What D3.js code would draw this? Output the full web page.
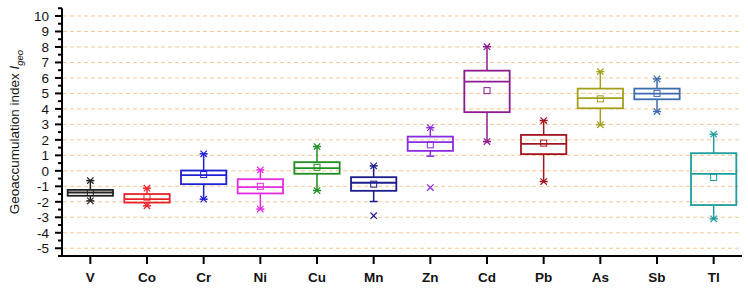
<!DOCTYPE html>
<html><head><meta charset="utf-8">
<script src="https://cdn.jsdelivr.net/npm/d3@7"></script>
<style>body{margin:0;background:#fff}svg{display:block}</style>
</head><body>
<svg id="c" width="748" height="296"></svg>
<script>
const categories = ["V","Co","Cr","Ni","Cu","Mn","Zn","Cd","Pb","As","Sb","Tl"];
const colors = ["#222222","#e8232a","#1f1fd6","#e62be6","#1f8f1f","#1c1c8c","#8a2be2","#8b1c8f","#a3161f","#a3a01c","#3b6db0","#1f9e9e"];
const q1 = [-1.61,-2.05,-0.86,-1.46,-0.19,-1.29,1.29,3.79,1.08,4.04,4.62,-2.21];
const medians = [-1.40,-1.83,-0.28,-1.05,0.17,-0.77,1.85,5.76,1.74,4.69,4.99,-0.19];
const q3 = [-1.23,-1.50,0.02,-0.54,0.56,-0.41,2.21,6.47,2.32,5.31,5.31,1.14];
const means = [-1.40,-1.70,-0.24,-1.00,0.23,-0.86,1.68,5.18,1.79,4.65,5.00,-0.43];
const whiskerLow = [-1.94,-2.26,-1.83,-2.47,-1.27,-1.98,0.95,1.89,-0.69,2.97,3.83,-3.10];
const whiskerHigh = [-0.63,-1.12,1.10,0.06,1.57,0.32,2.79,8.02,3.25,6.41,5.94,2.37];
const markers = [[-1.94,-0.63],[-2.26,-1.12],[-1.83,1.10],[-2.47,0.06],[-1.27,1.57],[-2.90,0.32],[-1.08,2.79],[1.89,8.02],[-0.69,3.25],[2.97,6.41],[3.83,5.94],[-3.10,2.37]];
const yTicks = d3.range(-5, 11);

const svg = d3.select("#c");
const pL = 62, pR = 742, pT = 8.25, pB = 256;
const x = d3.scaleBand().domain(categories).range([pL, pR]).padding(0);
const y = d3.scaleLinear().domain([-5.5, 10.5]).range([pB, pT]);

// gridlines
svg.append("g").selectAll("line").data(yTicks).join("line")
  .attr("x1", pL+1).attr("x2", pR).attr("y1", d=>y(d)).attr("y2", d=>y(d))
  .attr("stroke", "#f5c794").attr("stroke-width", 1).attr("stroke-dasharray", "4,3");

// boxes
const bw = x.bandwidth()*0.8;
const g = svg.append("g").selectAll("g").data(categories).join("g")
  .attr("transform", d=>`translate(${x(d)+x.bandwidth()/2},0)`);
g.each(function(d,i){
  const s = d3.select(this), c = colors[i];
  s.append("line").attr("x1",0).attr("x2",0).attr("y1",y(whiskerHigh[i])).attr("y2",y(q3[i])).attr("stroke",c).attr("stroke-width",1.5);
  s.append("line").attr("x1",0).attr("x2",0).attr("y1",y(q1[i])).attr("y2",y(whiskerLow[i])).attr("stroke",c).attr("stroke-width",1.5);
  [whiskerLow[i], whiskerHigh[i]].forEach(v=>{
    s.append("line").attr("x1",-4).attr("x2",4).attr("y1",y(v)).attr("y2",y(v)).attr("stroke",c).attr("stroke-width",1.5);
  });
  s.append("rect").attr("x",-bw/2).attr("width",bw).attr("y",y(q3[i])).attr("height",y(q1[i])-y(q3[i]))
    .attr("fill","none").attr("stroke",c).attr("stroke-width",1.8);
  s.append("line").attr("x1",-bw/2).attr("x2",bw/2).attr("y1",y(medians[i])).attr("y2",y(medians[i])).attr("stroke",c).attr("stroke-width",1.8);
  s.append("rect").attr("x",-3).attr("y",y(means[i])-3).attr("width",6).attr("height",6).attr("fill","none").attr("stroke",c).attr("stroke-width",1);
  markers[i].forEach(v=>{
    const yy = y(v), r = 3.2;
    s.append("path").attr("d",`M${-r},${yy-r}L${r},${yy+r}M${-r},${yy+r}L${r},${yy-r}`).attr("stroke",c).attr("stroke-width",1.2).attr("fill","none");
  });
});

// y axis
const ya = svg.append("g").attr("transform",`translate(${pL},0)`);
ya.selectAll("line.minor").data(d3.range(-5.5, 10.51, 0.5).filter(v=>Math.abs(v%1)>0.1)).join("line")
  .attr("x1",-4).attr("x2",0).attr("y1",d=>y(d)).attr("y2",d=>y(d)).attr("stroke","#000").attr("stroke-width",2);
ya.selectAll("line.major").data(yTicks).join("line")
  .attr("x1",-7).attr("x2",0).attr("y1",d=>y(d)).attr("y2",d=>y(d)).attr("stroke","#000").attr("stroke-width",2);
ya.selectAll("text").data(yTicks).join("text")
  .attr("x",-13).attr("y",d=>y(d)).attr("dy","0.36em").attr("text-anchor","end")
  .attr("font-family","Liberation Sans, Arial, sans-serif").attr("font-size",13.5).attr("fill","#111").text(d=>d);
ya.append("line").attr("x1",0).attr("x2",0).attr("y1",pT).attr("y2",pB+1).attr("stroke","#000").attr("stroke-width",2);

// x axis
const xa = svg.append("g");
xa.append("line").attr("x1",pL-1).attr("x2",pR).attr("y1",pB).attr("y2",pB).attr("stroke","#000").attr("stroke-width",2);
xa.selectAll("line.t").data(categories).join("line")
  .attr("x1",d=>x(d)+x.bandwidth()/2).attr("x2",d=>x(d)+x.bandwidth()/2).attr("y1",pB).attr("y2",pB+8)
  .attr("stroke","#000").attr("stroke-width",2);
xa.selectAll("text").data(categories).join("text")
  .attr("x",d=>x(d)+x.bandwidth()/2).attr("y",282).attr("text-anchor","middle")
  .attr("font-family","Liberation Sans, Arial, sans-serif").attr("font-weight","bold").attr("font-size",13.5).attr("fill","#111").text(d=>d);

// y title
const t = svg.append("text").attr("transform",`translate(19,${(pT+pB)/2}) rotate(-90)`).attr("text-anchor","middle")
  .attr("font-family","Liberation Sans, Arial, sans-serif").attr("font-size",13.5).attr("fill","#111");
t.append("tspan").text("Geoaccumulation index ");
t.append("tspan").attr("font-style","italic").text("I");
t.append("tspan").attr("font-style","italic").attr("font-size",9.5).attr("dy",4).text("geo");
</script>
</body></html>
